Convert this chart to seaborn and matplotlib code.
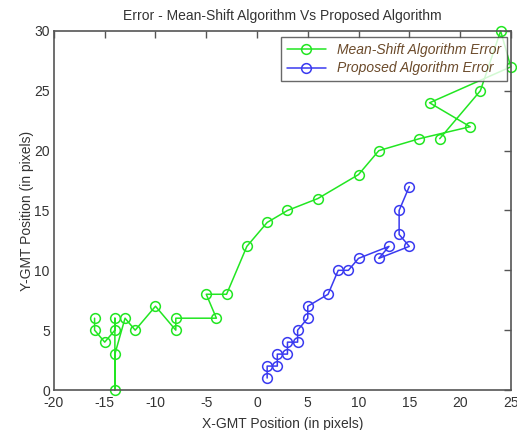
import pandas as pd
import matplotlib.pyplot as plt
import seaborn as sns

# Mean-Shift Fehlerpunkte (Reihenfolge wie im Bild)
ms_x = [-16, -16, -15, -14, -14, -14, -14, -13, -12, -10, -8, -8, -4, -5, -3, -1,
        1, 3, 6, 10, 12, 16, 21, 17, 25, 24, 22, 18]
ms_y = [6, 5, 4, 5, 6, 0, 3, 6, 5, 7, 5, 6, 6, 8, 8, 12,
        14, 15, 16, 18, 20, 21, 22, 24, 27, 30, 25, 21]

# Proposed Fehlerpunkte
pr_x = [1, 1, 2, 2, 3, 3, 4, 4, 5, 5, 7, 8, 9, 10, 13, 12, 15, 14, 14, 15]
pr_y = [1, 2, 2, 3, 3, 4, 4, 5, 6, 7, 8, 10, 10, 11, 12, 11, 12, 13, 15, 17]

x_ticks = [-20, -15, -10, -5, 0, 5, 10, 15, 20, 25]
y_ticks = [0, 5, 10, 15, 20, 25, 30]

sns.set_style("white")
plt.rcParams['font.family'] = ['Liberation Sans', 'DejaVu Sans']
plt.rcParams['axes.unicode_minus'] = False

df_ms = pd.DataFrame({"x": ms_x, "y": ms_y})
df_pr = pd.DataFrame({"x": pr_x, "y": pr_y})

fig = plt.figure(figsize=(5.17, 4.30), dpi=100)
ax = fig.add_axes([0.1044, 0.093, 0.8836, 0.835])

sns.lineplot(data=df_ms, x="x", y="y", sort=False, estimator=None, ax=ax,
             color="#22e622", marker="o", markersize=7, markerfacecolor="none",
             markeredgecolor="#22e622", markeredgewidth=1.1, linewidth=1.1,
             label="Mean-Shift Algorithm Error", clip_on=False)
sns.lineplot(data=df_pr, x="x", y="y", sort=False, estimator=None, ax=ax,
             color="#3a3af0", marker="o", markersize=7, markerfacecolor="none",
             markeredgecolor="#3a3af0", markeredgewidth=1.1, linewidth=1.1,
             label="Proposed Algorithm Error")

ax.set_xlim(-20, 25)
ax.set_ylim(0, 30)
ax.set_xticks(x_ticks)
ax.set_yticks(y_ticks)
ax.tick_params(direction="in", length=5, width=1, colors="#555555",
               labelcolor="#333333", labelsize=10, top=True, right=True)
ax.tick_params(axis="x", pad=4)
ax.tick_params(axis="y", pad=3)
for s in ax.spines.values():
    s.set_color("#555555")
    s.set_linewidth(1.2)

ax.set_title("Error - Mean-Shift Algorithm Vs Proposed Algorithm",
             fontsize=10, color="#333333", pad=8)
ax.set_xlabel("X-GMT Position (in pixels)", fontsize=10, color="#333333", labelpad=5)
ax.set_ylabel("Y-GMT Position (in pixels)", fontsize=10, color="#333333", labelpad=0)

leg = ax.legend(loc="upper right", fontsize=10, frameon=True, fancybox=False,
                edgecolor="#444444", borderpad=0.4, handlelength=2.8,
                labelspacing=0.35, borderaxespad=0,
                bbox_to_anchor=(0.991, 0.983))
leg.get_frame().set_linewidth(1.0)
for t in leg.get_texts():
    t.set_fontstyle("italic")
    t.set_color("#6b4a2a")

fig.savefig("out.png", dpi=100)
